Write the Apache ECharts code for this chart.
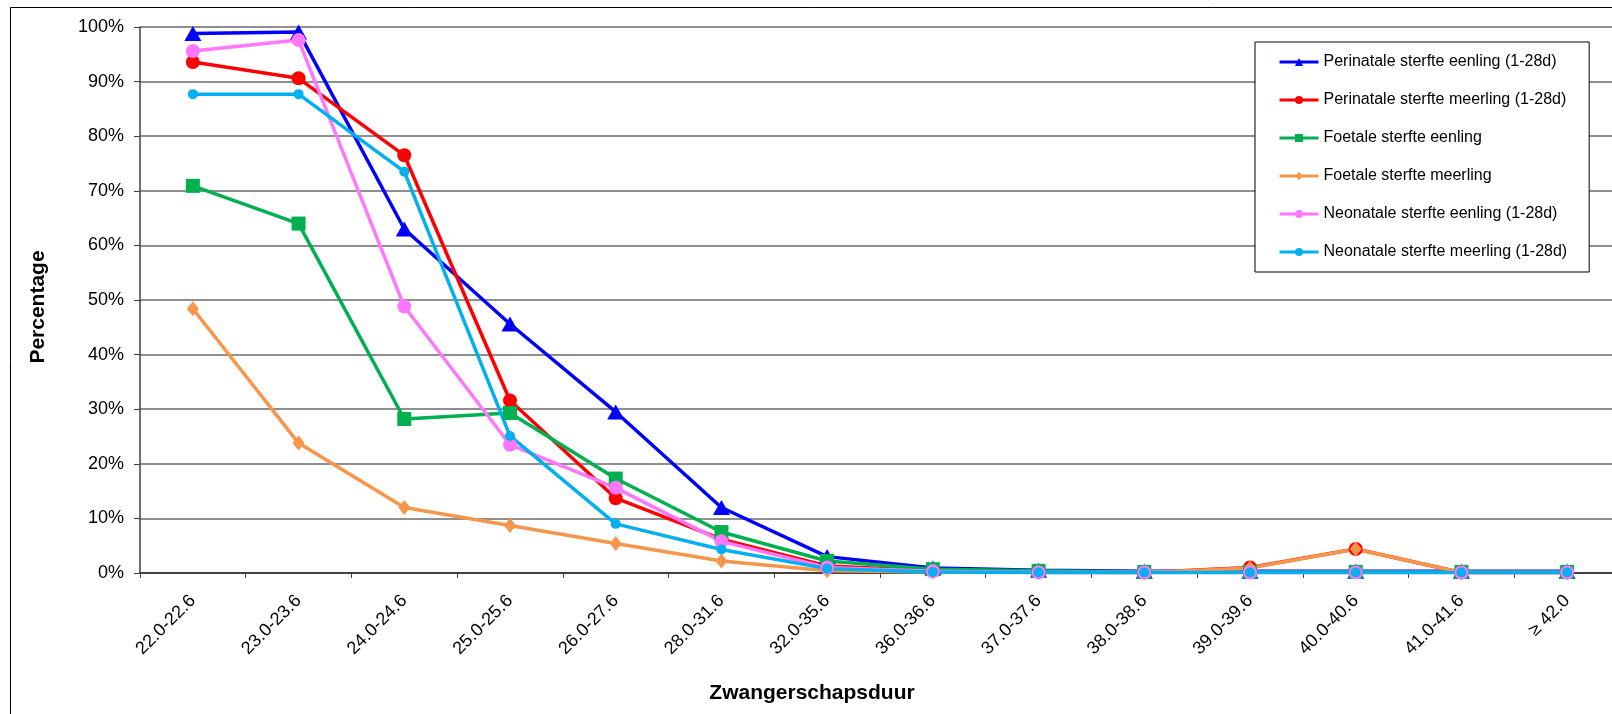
<!DOCTYPE html>
<html>
<head>
<meta charset="utf-8">
<title>Sterfte naar zwangerschapsduur</title>
<script src="https://cdn.jsdelivr.net/npm/echarts@6/dist/echarts.min.js"></script>
<style>
  html, body { margin: 0; padding: 0; background: #fff; }
  #chart { width: 1612px; height: 714px; }
</style>
</head>
<body>
<div id="chart"></div>
<script>
// categorieen (zwangerschapsduur in weken)
var categories = ['22.0-22.6', '23.0-23.6', '24.0-24.6', '25.0-25.6', '26.0-27.6', '28.0-31.6', '32.0-35.6',
  '36.0-36.6', '37.0-37.6', '38.0-38.6', '39.0-39.6', '40.0-40.6', '41.0-41.6', '≥ 42.0'];

// percentages per reeks
var perinataalEenling = [98.8, 99.1, 63.0, 45.6, 29.5, 12.0, 3.0, 0.9, 0.5, 0.3, 0.3, 0.3, 0.3, 0.3];
var perinataalMeerling = [93.6, 90.6, 76.5, 31.6, 13.7, 6.2, 1.3, 0.4, 0.2, 0.1, 1.0, 4.4, 0.1, 0.1];
var foetaalEenling = [70.9, 64.0, 28.2, 29.3, 17.3, 7.5, 2.2, 0.7, 0.4, 0.2, 0.2, 0.2, 0.2, 0.2];
var foetaalMeerling = [48.4, 23.8, 12.0, 8.7, 5.4, 2.2, 0.4, 0.2, 0.1, 0.1, 0.9, 4.4, 0.1, 0.1];
var neonataalEenling = [95.6, 97.6, 48.8, 23.5, 15.6, 5.8, 1.0, 0.3, 0.1, 0.1, 0.1, 0.1, 0.1, 0.1];
var neonataalMeerling = [87.7, 87.7, 73.5, 25.1, 9.0, 4.3, 0.8, 0.2, 0.1, 0.1, 0.1, 0.1, 0.1, 0.1];

var yTicks = { min: 0, max: 100, interval: 10 };

var FONT = "'Liberation Sans', Arial, sans-serif";

function lineSeries(name, data, color, symbol, size) {
  return {
    name: name,
    type: 'line',
    data: data,
    symbol: symbol,
    symbolSize: size,
    showAllSymbol: true,
    lineStyle: { color: color, width: 3.5 },
    itemStyle: { color: color },
    emphasis: { disabled: true }
  };
}

var chart = echarts.init(document.getElementById('chart'));
chart.setOption({
  animation: false,
  textStyle: { fontFamily: FONT },
  graphic: [
    {
      type: 'rect', z: -10, silent: true,
      shape: { x: 10.5, y: 7.5, width: 1700, height: 800 },
      style: { fill: 'none', stroke: '#000', lineWidth: 1 }
    },
    {
      type: 'text', x: 812, y: 693, silent: true,
      style: { text: 'Zwangerschapsduur', align: 'center', verticalAlign: 'middle',
        font: 'bold 21px ' + FONT, fill: '#000' }
    },
    {
      type: 'text', x: 38, y: 307, rotation: Math.PI / 2, silent: true,
      style: { text: 'Percentage', align: 'center', verticalAlign: 'middle',
        font: 'bold 21px ' + FONT, fill: '#000' }
    }
  ],
  grid: { left: 140, top: 27, right: -8, bottom: 141, containLabel: false, outerBoundsMode: 'none' },
  legend: {
    orient: 'vertical',
    left: 1255, top: 42,
    padding: [12, 22, 12, 23],
    itemGap: 22,
    itemWidth: 39,
    itemHeight: 10,
    lineStyle: { width: 3 },
    borderColor: '#000', borderWidth: 1,
    backgroundColor: '#fff',
    textStyle: { fontSize: 16, color: '#000', fontFamily: FONT }
  },
  xAxis: {
    type: 'category',
    data: categories,
    boundaryGap: true,
    axisLine: { lineStyle: { color: '#404040', width: 2 } },
    axisTick: { show: true, length: 5, lineStyle: { color: '#404040' } },
    axisLabel: { rotate: 45, fontSize: 18, color: '#000', margin: 25, interval: 0 },
    splitLine: { show: false }
  },
  yAxis: {
    type: 'value',
    min: yTicks.min, max: yTicks.max, interval: yTicks.interval,
    axisLine: { show: true, lineStyle: { color: '#404040', width: 1.5 } },
    axisTick: { show: true, length: 6, lineStyle: { color: '#404040' } },
    axisLabel: { formatter: '{value}%', fontSize: 18, color: '#000', margin: 16 },
    splitLine: { lineStyle: { color: '#6a6a6a', width: 1.5 } }
  },
  series: [
    lineSeries('Perinatale sterfte eenling (1-28d)', perinataalEenling, '#0000ff', 'triangle', [17, 15]),
    lineSeries('Perinatale sterfte meerling (1-28d)', perinataalMeerling, '#ff0000', 'circle', 14),
    lineSeries('Foetale sterfte eenling', foetaalEenling, '#00b050', 'rect', 14),
    lineSeries('Foetale sterfte meerling', foetaalMeerling, '#f7964a', 'diamond', [12, 15]),
    lineSeries('Neonatale sterfte eenling (1-28d)', neonataalEenling, '#ff77ff', 'circle', 14),
    lineSeries('Neonatale sterfte meerling (1-28d)', neonataalMeerling, '#00b0f0', 'circle', 10)
  ]
});
</script>
</body>
</html>
